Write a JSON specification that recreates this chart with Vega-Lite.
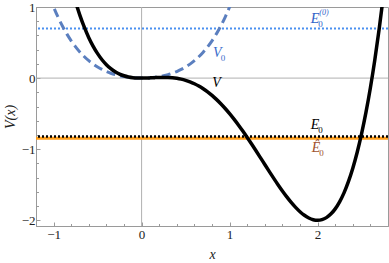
{
  "$schema": "https://vega.github.io/schema/vega-lite/v6.json",
  "width": 352,
  "height": 219,
  "autosize": {"type": "none"},
  "padding": {"left": 36, "top": 7, "right": 1, "bottom": 37},
  "config": {
    "view": {"stroke": "#9a9a9a", "strokeWidth": 1},
    "font": "Liberation Serif",
    "axis": {
      "domainColor": "#9a9a9a",
      "tickColor": "#9a9a9a",
      "labelFont": "Liberation Serif",
      "labelFontSize": 13,
      "labelColor": "#222222",
      "titleFont": "Liberation Serif",
      "titleFontSize": 14,
      "titleFontWeight": "normal",
      "titleFontStyle": "italic",
      "titleColor": "#222222",
      "labelOverlap": false,
      "grid": false
    }
  },
  "resolve": {"scale": {"color": "independent"}, "axis": {"x": "independent", "y": "independent"}},
  "datasets": {
    "V": [
      {"x": -0.8, "y": 1.2928}, {"x": -0.75, "y": 1.0723}, {"x": -0.7, "y": 0.8796}, {"x": -0.65, "y": 0.7124},
      {"x": -0.6, "y": 0.5688}, {"x": -0.55, "y": 0.4466}, {"x": -0.5, "y": 0.34375}, {"x": -0.45, "y": 0.2584},
      {"x": -0.4, "y": 0.1888}, {"x": -0.35, "y": 0.1331}, {"x": -0.3, "y": 0.08955}, {"x": -0.25, "y": 0.05664},
      {"x": -0.2, "y": 0.0328}, {"x": -0.15, "y": 0.01657}, {"x": -0.1, "y": 0.00655}, {"x": -0.05, "y": 0.00144},
      {"x": 0, "y": 0}, {"x": 0.05, "y": 0.00107}, {"x": 0.1, "y": 0.00355}, {"x": 0.15, "y": 0.00644},
      {"x": 0.2, "y": 0.0088}, {"x": 0.25, "y": 0.00977}, {"x": 0.3, "y": 0.00855}, {"x": 0.35, "y": 0.00444},
      {"x": 0.4, "y": -0.0032}, {"x": 0.45, "y": -0.01493}, {"x": 0.5, "y": -0.03125}, {"x": 0.55, "y": -0.05256},
      {"x": 0.6, "y": -0.0792}, {"x": 0.65, "y": -0.11143}, {"x": 0.7, "y": -0.14945}, {"x": 0.75, "y": -0.19336},
      {"x": 0.8, "y": -0.2432}, {"x": 0.85, "y": -0.29893}, {"x": 0.9, "y": -0.36045}, {"x": 0.95, "y": -0.42756},
      {"x": 1.0, "y": -0.5}, {"x": 1.05, "y": -0.57743}, {"x": 1.1, "y": -0.65945}, {"x": 1.15, "y": -0.74556},
      {"x": 1.2, "y": -0.8352}, {"x": 1.25, "y": -0.92773}, {"x": 1.3, "y": -1.02245}, {"x": 1.35, "y": -1.11856},
      {"x": 1.4, "y": -1.2152}, {"x": 1.45, "y": -1.31143}, {"x": 1.5, "y": -1.40625}, {"x": 1.55, "y": -1.49856},
      {"x": 1.6, "y": -1.5872}, {"x": 1.65, "y": -1.67093}, {"x": 1.7, "y": -1.74845}, {"x": 1.75, "y": -1.81836},
      {"x": 1.8, "y": -1.8792}, {"x": 1.85, "y": -1.92943}, {"x": 1.9, "y": -1.96745}, {"x": 1.95, "y": -1.99156},
      {"x": 2.0, "y": -2.0}, {"x": 2.05, "y": -1.99093}, {"x": 2.1, "y": -1.96245}, {"x": 2.15, "y": -1.91256},
      {"x": 2.2, "y": -1.8392}, {"x": 2.25, "y": -1.74023}, {"x": 2.3, "y": -1.61345}, {"x": 2.35, "y": -1.45656},
      {"x": 2.4, "y": -1.2672}, {"x": 2.45, "y": -1.04293}, {"x": 2.5, "y": -0.78125}, {"x": 2.55, "y": -0.47956},
      {"x": 2.6, "y": -0.1352}, {"x": 2.65, "y": 0.25457}, {"x": 2.7, "y": 0.69255}, {"x": 2.75, "y": 1.18164},
      {"x": 2.8, "y": 1.7248}
    ],
    "V0": [
      {"x": -1.05, "y": 1.159}, {"x": -1.0, "y": 1.0}, {"x": -0.95, "y": 0.8585}, {"x": -0.9, "y": 0.73305},
      {"x": -0.85, "y": 0.62226}, {"x": -0.8, "y": 0.5248}, {"x": -0.75, "y": 0.43945}, {"x": -0.7, "y": 0.36505},
      {"x": -0.65, "y": 0.3005}, {"x": -0.6, "y": 0.2448}, {"x": -0.55, "y": 0.197}, {"x": -0.5, "y": 0.15625},
      {"x": -0.45, "y": 0.12176}, {"x": -0.4, "y": 0.0928}, {"x": -0.35, "y": 0.06875}, {"x": -0.3, "y": 0.04905},
      {"x": -0.25, "y": 0.0332}, {"x": -0.2, "y": 0.0208}, {"x": -0.15, "y": 0.0115}, {"x": -0.1, "y": 0.00505},
      {"x": -0.05, "y": 0.00125}, {"x": 0, "y": 0}, {"x": 0.05, "y": 0.00125}, {"x": 0.1, "y": 0.00505},
      {"x": 0.15, "y": 0.0115}, {"x": 0.2, "y": 0.0208}, {"x": 0.25, "y": 0.0332}, {"x": 0.3, "y": 0.04905},
      {"x": 0.35, "y": 0.06875}, {"x": 0.4, "y": 0.0928}, {"x": 0.45, "y": 0.12176}, {"x": 0.5, "y": 0.15625},
      {"x": 0.55, "y": 0.197}, {"x": 0.6, "y": 0.2448}, {"x": 0.65, "y": 0.3005}, {"x": 0.7, "y": 0.36505},
      {"x": 0.75, "y": 0.43945}, {"x": 0.8, "y": 0.5248}, {"x": 0.85, "y": 0.62226}, {"x": 0.9, "y": 0.73305},
      {"x": 0.95, "y": 0.8585}, {"x": 1.0, "y": 1.0}, {"x": 1.05, "y": 1.159}
    ],
    "levels": [
      {"name": "Ehat0", "E": -0.845},
      {"name": "E0", "E": -0.82},
      {"name": "E00", "E": 0.696}
    ],
    "labels": [
      {"name": "E00", "main": "E", "sub": "0", "sup": "(0)", "x": 2.02, "y": 0.83},
      {"name": "V0", "main": "V", "sub": "0", "sup": "", "x": 0.91, "y": 0.35},
      {"name": "V", "main": "V", "sub": "", "sup": "", "x": 0.9, "y": -0.07},
      {"name": "E0", "main": "E", "sub": "0", "sup": "", "x": 2.02, "y": -0.66},
      {"name": "Ehat0", "main": "Ê", "sub": "0", "sup": "", "x": 2.03, "y": -0.99}
    ]
  },
  "layer": [
    {
      "data": {"values": [{"z": 0}]},
      "mark": {"type": "rule", "color": "#b0b0b0", "strokeWidth": 1},
      "encoding": {
        "x": {
          "field": "z", "type": "quantitative",
          "scale": {"domain": [-1.2, 2.8], "nice": false, "zero": false},
          "axis": {
            "orient": "bottom",
            "title": "x",
            "values": [-1, 0, 1, 2],
            "format": "d",
            "tickSize": -4,
            "labelPadding": 6,
            "labelFlush": false,
            "titlePadding": 6
          }
        }
      }
    },
    {
      "data": {"values": [{"z": 0}]},
      "mark": {"type": "rule", "color": "#b0b0b0", "strokeWidth": 1},
      "encoding": {
        "y": {
          "field": "z", "type": "quantitative",
          "scale": {"domain": [-2.08, 1], "nice": false, "zero": false},
          "axis": {
            "orient": "left",
            "title": "V(x)",
            "values": [-2, -1, 0, 1],
            "format": "d",
            "tickSize": -4,
            "labelPadding": 5,
            "labelFlush": false,
            "titlePadding": 4
          }
        }
      }
    },
    {
      "data": {"name": "levels"},
      "mark": {"type": "rule"},
      "encoding": {
        "y": {"field": "E", "type": "quantitative",
          "axis": {"orient": "left", "title": null, "labels": false, "domain": false, "tickSize": -2.5,
            "values": [-2, -1.8, -1.6, -1.4, -1.2, -1, -0.8, -0.6, -0.4, -0.2, 0, 0.2, 0.4, 0.6, 0.8, 1]}},
        "color": {"field": "name", "type": "nominal", "legend": null,
          "scale": {"domain": ["Ehat0", "E0", "E00"], "range": ["#ff9f1c", "#000000", "#4a90f0"]}},
        "strokeWidth": {"field": "name", "type": "nominal", "legend": null,
          "scale": {"domain": ["Ehat0", "E0", "E00"], "range": [3, 2, 2]}},
        "strokeDash": {"field": "name", "type": "nominal", "legend": null,
          "scale": {"domain": ["Ehat0", "E0", "E00"], "range": [[1, 0], [2, 2], [2, 2]]}},
        "order": {"field": "E", "type": "quantitative"}
      }
    },
    {
      "data": {"name": "V0"},
      "mark": {"type": "line", "color": "#5b7fbf", "strokeWidth": 3, "strokeDash": [9, 5], "clip": true, "interpolate": "monotone"},
      "encoding": {
        "x": {"field": "x", "type": "quantitative",
          "axis": {"orient": "bottom", "title": null, "labels": false, "domain": false, "tickSize": -2.5,
            "values": [-1.2, -1, -0.8, -0.6, -0.4, -0.2, 0, 0.2, 0.4, 0.6, 0.8, 1, 1.2, 1.4, 1.6, 1.8, 2, 2.2, 2.4, 2.6, 2.8]}},
        "y": {"field": "y", "type": "quantitative", "axis": null}
      }
    },
    {
      "data": {"name": "V"},
      "mark": {"type": "line", "color": "#000000", "strokeWidth": 3.5, "clip": true, "interpolate": "monotone"},
      "encoding": {
        "x": {"field": "x", "type": "quantitative", "axis": null},
        "y": {"field": "y", "type": "quantitative", "axis": null}
      }
    },
    {
      "data": {"name": "labels"},
      "mark": {"type": "text", "font": "Liberation Serif", "fontStyle": "italic", "fontSize": 14, "align": "right", "baseline": "middle"},
      "encoding": {
        "x": {"field": "x", "type": "quantitative", "axis": null},
        "y": {"field": "y", "type": "quantitative", "axis": null},
        "text": {"field": "main"},
        "color": {"field": "name", "type": "nominal", "legend": null,
          "scale": {"domain": ["E00", "V0", "V", "E0", "Ehat0"], "range": ["#2f62c8", "#3a6ccc", "#000000", "#000000", "#a0522d"]}}
      }
    },
    {
      "data": {"name": "labels"},
      "mark": {"type": "text", "font": "Liberation Serif", "fontSize": 9, "align": "left", "baseline": "middle", "dy": 5, "dx": -1},
      "encoding": {
        "x": {"field": "x", "type": "quantitative", "axis": null},
        "y": {"field": "y", "type": "quantitative", "axis": null},
        "text": {"field": "sub"},
        "color": {"field": "name", "type": "nominal", "legend": null,
          "scale": {"domain": ["E00", "V0", "V", "E0", "Ehat0"], "range": ["#2f62c8", "#3a6ccc", "#000000", "#000000", "#a0522d"]}}
      }
    },
    {
      "data": {"name": "labels"},
      "mark": {"type": "text", "font": "Liberation Serif", "fontStyle": "italic", "fontSize": 8, "align": "left", "baseline": "middle", "dy": -6, "dx": 0},
      "encoding": {
        "x": {"field": "x", "type": "quantitative", "axis": null},
        "y": {"field": "y", "type": "quantitative", "axis": null},
        "text": {"field": "sup"},
        "color": {"field": "name", "type": "nominal", "legend": null,
          "scale": {"domain": ["E00", "V0", "V", "E0", "Ehat0"], "range": ["#2f62c8", "#3a6ccc", "#000000", "#000000", "#a0522d"]}}
      }
    }
  ]
}
